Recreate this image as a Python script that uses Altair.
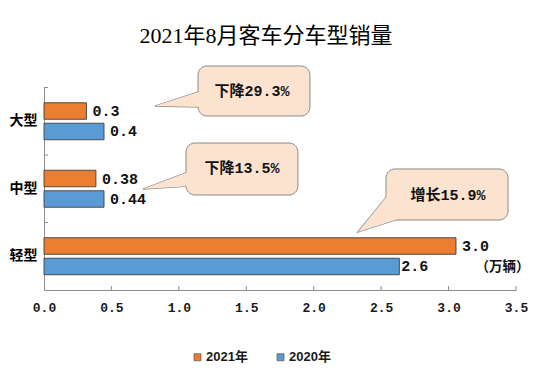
import altair as alt
import pandas as pd

# ---- data ----
categories = ["大型", "中型", "轻型"]
series = ["2021年", "2020年"]
values_2021 = [0.315, 0.385, 3.055]
values_2020 = [0.445, 0.445, 2.635]
labels_2021 = ["0.3", "0.38", "3.0"]
labels_2020 = ["0.4", "0.44", "2.6"]
x_ticks = [0.0, 0.5, 1.0, 1.5, 2.0, 2.5, 3.0, 3.5]

# callouts (x in 万辆, y in category-band units counted from the bottom)
callout_text = ["下降29.3%", "下降13.5%", "增长15.9%"]
callout_x1 = [1.142, 1.053, 2.536]
callout_x2 = [1.972, 1.883, 3.441]
callout_y1 = [3.319, 2.178, 1.793]
callout_y2 = [2.578, 1.407, 1.037]
callout_tx = [1.542, 1.468, 2.996]
callout_ty = [2.948, 1.807, 1.407]
pointer_tip_x = [0.823, 0.734, 2.328]
pointer_tip_y = [2.726, 1.496, 0.859]
pointer_base_x = [1.179, 1.090, 2.610]
pointer_base_top = [2.957, 1.763, 1.556]
pointer_base_bot = [2.710, 1.541, 1.041]
unit_text = ["（万辆）"]
unit_x_end = [3.60]
unit_y = [0.341]
band_edges = [1, 2, 3]

W, H = 472, 202.5
ORANGE, BLUE = "#ED7D31", "#5B9BD5"
AXIS_GRAY = "#8c8c8c"
CALLOUT_FILL = "#FBE3CF"
CALLOUT_STROKE = "#8a8a8a"
MONO = "'Liberation Mono', 'Noto Sans CJK SC'"

rows = []
for i, c in enumerate(categories):
    rows.append({"cat": c, "series": series[0], "value": values_2021[i], "label": labels_2021[i]})
    rows.append({"cat": c, "series": series[1], "value": values_2020[i], "label": labels_2020[i]})
bars_df = pd.DataFrame(rows)

xscale = alt.Scale(domain=[0, 3.5], nice=False, zero=True)
yq = alt.Scale(domain=[0, 3], nice=False, zero=True)

x_axis = alt.Axis(values=x_ticks, format=".1f", title=None, grid=False, tickSize=0,
                  tickColor="transparent", labelPadding=11, labelFont="Liberation Mono",
                  labelFontSize=13, labelFontWeight="bold", labelColor="#1a1a1a",
                  domainColor=AXIS_GRAY, labelOverlap=False, labelFlush=False, orient="bottom")


def X(field):
    return alt.X(field, scale=xscale, axis=x_axis)


ybase = alt.Y("cat:N", sort=categories, scale=alt.Scale(paddingInner=0, paddingOuter=0),
              axis=alt.Axis(title=None, ticks=False, tickSize=0, labelPadding=7,
                            labelFont="Noto Sans CJK SC", labelFontSize=14, labelFontWeight="bold",
                            labelColor="#000000", domainColor=AXIS_GRAY))
yoff = alt.YOffset("series:N", sort=series, scale=alt.Scale(paddingInner=0.195, paddingOuter=0.744))

bars = alt.Chart(bars_df).mark_bar(stroke="#404040", strokeWidth=0.9).encode(
    x=X("value:Q"),
    y=ybase,
    yOffset=yoff,
    color=alt.Color("series:N", sort=series, scale=alt.Scale(domain=series, range=[ORANGE, BLUE]),
                    legend=alt.Legend(orient="none", legendX=147, legendY=263, direction="horizontal",
                                      title=None, symbolType="square", symbolSize=49,
                                      symbolStrokeColor="#555555", symbolStrokeWidth=0.7,
                                      labelFont="'Liberation Sans', 'Noto Sans CJK SC'", labelFontSize=13,
                                      labelFontWeight="bold", labelColor="#1a1a1a",
                                      columnPadding=26, labelOffset=2, padding=0)),
)

tight = "datum.cat === '轻型' && datum.series === '2020年'"
label_style = dict(align="left", baseline="middle", font=MONO, fontSize=15, fontWeight="bold",
                   color="#111111")
value_labels = alt.Chart(bars_df).transform_filter("!(" + tight + ")").mark_text(
    dx=6, **label_style).encode(x=X("value:Q"), y=ybase, yOffset=yoff, text="label:N")
value_labels_tight = alt.Chart(bars_df).transform_filter(tight).mark_text(
    dx=2, **label_style).encode(x=X("value:Q"), y=ybase, yOffset=yoff, text="label:N")

main = alt.layer(bars, value_labels, value_labels_tight)

# ---- overlay (annotations) on a numeric y scale ----
pointer_rows = []
for i in range(len(callout_text)):
    pointer_rows.append({"id": i, "x": pointer_tip_x[i], "y": pointer_tip_y[i], "y2": pointer_tip_y[i]})
    pointer_rows.append({"id": i, "x": pointer_base_x[i], "y": pointer_base_top[i], "y2": pointer_base_bot[i]})
pointer_df = pd.DataFrame(pointer_rows)

callout_df = pd.DataFrame({"x1": callout_x1, "x2": callout_x2, "y1": callout_y1, "y2": callout_y2,
                           "tx": callout_tx, "ty": callout_ty, "text": callout_text})

pointer_enc = dict(
    x=X("x:Q"),
    y=alt.Y("y:Q", scale=yq, axis=None, stack=None),
    y2="y2:Q",
    detail="id:N",
)
pointer_outline = alt.Chart(pointer_df).mark_area(fill=CALLOUT_FILL, stroke=CALLOUT_STROKE,
                                                  strokeWidth=1.3).encode(**pointer_enc)
boxes = alt.Chart(callout_df).mark_rect(fill=CALLOUT_FILL, stroke=CALLOUT_STROKE, strokeWidth=1,
                                        cornerRadius=9).encode(
    x=X("x1:Q"), x2="x2:Q",
    y=alt.Y("y1:Q", scale=yq, axis=None), y2="y2:Q",
)
pointer_fill = alt.Chart(pointer_df).mark_area(fill=CALLOUT_FILL, strokeWidth=0).encode(**pointer_enc)
callout_labels = alt.Chart(callout_df).mark_text(align="center", baseline="middle", font=MONO,
                                                 fontSize=15, fontWeight="bold", color="#111111").encode(
    x=X("tx:Q"),
    y=alt.Y("ty:Q", scale=yq, axis=None),
    text="text:N",
)
unit_df = pd.DataFrame({"x": unit_x_end, "y": unit_y, "text": unit_text})
unit_label = alt.Chart(unit_df).mark_text(align="right", baseline="middle", font="Noto Sans CJK SC",
                                          fontSize=13.5, fontWeight="bold", color="#111111").encode(
    x=X("x:Q"),
    y=alt.Y("y:Q", scale=yq, axis=None),
    text="text:N",
)

# inward tick marks
tick_len_y = 4 / (H / 3)
tick_len_x = 4 / (W / 3.5)
xt_df = pd.DataFrame({"x": x_ticks[1:], "y": [0] * (len(x_ticks) - 1), "y2": [tick_len_y] * (len(x_ticks) - 1)})
x_tick_rules = alt.Chart(xt_df).mark_rule(color=AXIS_GRAY, strokeWidth=1).encode(
    x=X("x:Q"),
    y=alt.Y("y:Q", scale=yq, axis=None), y2="y2:Q",
)
yt_df = pd.DataFrame({"y": band_edges, "x": [0] * len(band_edges), "x2": [tick_len_x] * len(band_edges)})
y_tick_rules = alt.Chart(yt_df).mark_rule(color=AXIS_GRAY, strokeWidth=1).encode(
    x=X("x:Q"), x2="x2:Q",
    y=alt.Y("y:Q", scale=yq, axis=None),
)

overlay = alt.layer(x_tick_rules, y_tick_rules, pointer_outline, boxes, pointer_fill,
                    callout_labels, unit_label)

chart = alt.layer(main, overlay).resolve_scale(y="independent").properties(
    width=W,
    height=H,
    autosize=alt.AutoSizeParams(type="none"),
    padding={"left": 36, "top": 79.5, "right": 29, "bottom": 74},
    title=alt.TitleParams(text="2021年8月客车分车型销量",
                          font="'Liberation Serif', 'Noto Sans CJK SC'", fontSize=22,
                          fontWeight="normal", color="#000000", anchor="middle", dx=-14,
                          offset=17, frame="group"),
).configure(background="#ffffff").configure_view(stroke=None)

chart.save("out.html", embed_options={"renderer": "svg", "actions": False})
